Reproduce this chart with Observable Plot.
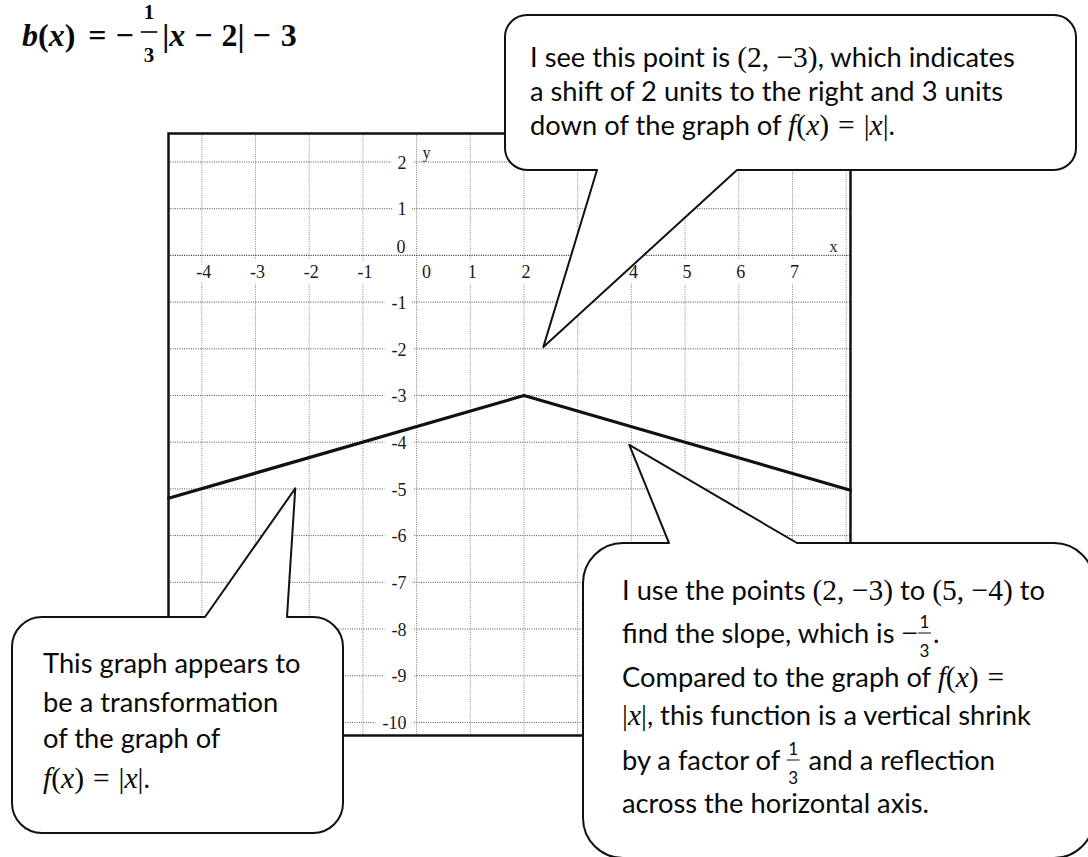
<!DOCTYPE html>
<html>
<head>
<meta charset="utf-8">
<script src="https://cdn.jsdelivr.net/npm/d3@7"></script>
<script src="https://cdn.jsdelivr.net/npm/@observablehq/plot@0.6"></script>
<style>
  html, body { margin: 0; padding: 0; background: #fff; }
  #wrap { position: relative; width: 1088px; height: 857px; overflow: hidden; }
</style>
</head>
<body>
<div id="wrap"></div>
<script>
// ---------- data ----------
const xDomain = [-4.62, 8.08];
const yDomain = [-10.28, 2.61];
const gridX = [-4, -3, -2, -1, 0, 1, 2, 3, 4, 5, 6, 7, 8];
const gridY = [-10, -9, -8, -7, -6, -5, -4, -3, -2, -1, 0, 1, 2];
const xTickLabels = [-4, -3, -2, -1, 1, 2, 3, 4, 5, 6, 7];
const yTickLabels = [-10, -9, -8, -7, -6, -5, -4, -3, -2, -1, 1, 2];
const zeroLabel = [0];
const curveX = [-4.62, 2, 8.08];
const curveY = [-5.2, -3, -5.03];
// callout pointer tips (data coordinates)
const tipX = [2.37, -2.25, 3.97];
const tipY = [-1.97, -5.0, -4.07];

const curve = curveX.map((x, i) => ({x, y: curveY[i]}));

const SERIF = "Liberation Serif, Times New Roman, serif";
const SANS = "Lato, Calibri, sans-serif";

const plot = Plot.plot({
  width: 1088,
  height: 857,
  marginLeft: 168,
  marginTop: 133,
  marginRight: 238,
  marginBottom: 122,
  x: {domain: xDomain, axis: null},
  y: {domain: yDomain, axis: null},
  style: {background: "white", overflow: "visible"},
  marks: [
    Plot.ruleX(gridX.filter(d => d !== 0), {x: d => d, stroke: "#888", strokeDasharray: "1,1.3", strokeWidth: 1}),
    Plot.ruleY(gridY.filter(d => d !== 0), {y: d => d, stroke: "#505050", strokeDasharray: "1,1.3", strokeWidth: 1}),
    Plot.text(xTickLabels, {x: d => d, y: 0, text: d => String(d), dx: 2, dy: 17, fontFamily: SERIF, fontSize: 18, fill: "#1a1a1a", stroke: "white", strokeWidth: 12}),
    Plot.text(zeroLabel, {x: d => d, y: 0, text: d => String(d), dx: 10, dy: 17, fontFamily: SERIF, fontSize: 18, fill: "#1a1a1a", stroke: "white", strokeWidth: 8}),
    Plot.text(yTickLabels, {x: 0, y: d => d, text: d => String(d), textAnchor: "end", dx: -10, dy: 1, fontFamily: SERIF, fontSize: 18, fill: "#1a1a1a", stroke: "white", strokeWidth: 16}),
    Plot.text(zeroLabel, {x: 0, y: d => d, text: d => String(d), textAnchor: "end", dx: -11, dy: -8, fontFamily: SERIF, fontSize: 18, fill: "#1a1a1a", stroke: "white", strokeWidth: 8}),
    Plot.ruleX(zeroLabel, {x: d => d, stroke: "#777", strokeDasharray: "1,1.3", strokeWidth: 1}),
    Plot.ruleY(zeroLabel, {y: d => d, stroke: "#333", strokeDasharray: "1,1.3", strokeWidth: 1.2}),
    Plot.text(["y"], {x: 0, y: yDomain[1], text: d => d, dx: 10, dy: 19, fontFamily: SERIF, fontSize: 16, fill: "#1a1a1a"}),
    Plot.text(["x"], {x: xDomain[1], y: 0, text: d => d, dx: -17, dy: -9, fontFamily: SERIF, fontSize: 16, fill: "#1a1a1a"}),
    Plot.line(curve, {x: "x", y: "y", stroke: "#111", strokeWidth: 3.2}),
    Plot.frame({stroke: "#111", strokeWidth: 2.5})
  ]
});

document.getElementById("wrap").appendChild(plot);

const sx = plot.scale("x"), sy = plot.scale("y");
const svg = d3.select(plot);

// ---------- callouts ----------
const bubbles = [
  {x0: 505, y0: 15, x1: 1076, y1: 170, r: 22, side: "bottom", b0: 597, b1: 737},
  {x0: 12, y0: 617, x1: 343, y1: 833, r: 30, side: "top", b0: 205, b1: 287},
  {x0: 583, y0: 543, x1: 1094, y1: 858, r: 40, side: "top", b0: 669, b1: 797}
];

function bubblePath(b, tx, ty) {
  const {x0, y0, x1, y1, r} = b;
  let p = `M${x0 + r},${y0}`;
  if (b.side === "top") p += `L${b.b0},${y0}L${tx},${ty}L${b.b1},${y0}`;
  p += `L${x1 - r},${y0}A${r},${r} 0 0 1 ${x1},${y0 + r}L${x1},${y1 - r}A${r},${r} 0 0 1 ${x1 - r},${y1}`;
  if (b.side === "bottom") p += `L${b.b1},${y1}L${tx},${ty}L${b.b0},${y1}`;
  p += `L${x0 + r},${y1}A${r},${r} 0 0 1 ${x0},${y1 - r}L${x0},${y0 + r}A${r},${r} 0 0 1 ${x0 + r},${y0}Z`;
  return p;
}

const gB = svg.append("g");
bubbles.forEach((b, i) => {
  gB.append("path")
    .attr("d", bubblePath(b, sx.apply(tipX[i]), sy.apply(tipY[i])))
    .attr("fill", "white")
    .attr("stroke", "#111")
    .attr("stroke-width", 2)
    .attr("stroke-linejoin", "round");
});

// ---------- text ----------
const F = {
  sans: {family: SANS, size: 27.3, style: "normal", weight: "normal"},
  m: {family: SERIF, size: 29.5, style: "normal", weight: "normal"},
  mi: {family: SERIF, size: 29.5, style: "italic", weight: "normal"},
  tb: {family: SERIF, size: 32, style: "normal", weight: "bold"},
  tbi: {family: SERIF, size: 32, style: "italic", weight: "bold"}
};

const gT = svg.append("g").attr("fill", "#0a0a0a").attr("text-anchor", "start");

function drawLine(x, y, segs) {
  let cx = x;
  for (const s of segs) {
    if (s.space) { cx += s.space; continue; }
    if (s.frac) {
      const f = F[s.f];
      const fs = s.size;
      const n = gT.append("text").attr("y", y + s.nd).attr("text-anchor", "middle")
        .style("font-family", f.family).style("font-size", fs + "px").style("font-weight", f.weight).text(s.frac[0]);
      const d = gT.append("text").attr("y", y + s.dd).attr("text-anchor", "middle")
        .style("font-family", f.family).style("font-size", fs + "px").style("font-weight", f.weight).text(s.frac[1]);
      const w = Math.max(n.node().getComputedTextLength(), d.node().getComputedTextLength()) + (s.pad || 2);
      n.attr("x", cx + w / 2);
      d.attr("x", cx + w / 2);
      gT.append("line").attr("x1", cx).attr("x2", cx + w).attr("y1", y + s.bd).attr("y2", y + s.bd)
        .attr("stroke", "#111").attr("stroke-width", s.bw || 1);
      cx += w + (s.gap || 1);
    } else {
      const f = F[s.f];
      const t = gT.append("text").attr("x", cx).attr("y", y).attr("text-anchor", "start")
        .style("font-family", f.family).style("font-size", (s.size || f.size) + "px")
        .style("font-style", f.style).style("font-weight", f.weight)
        .style("white-space", "pre").text(s.t);
      cx += t.node().getComputedTextLength();
    }
  }
}

// title: b(x) = −(1/3)|x − 2| − 3
drawLine(22, 46, [
  {t: "b", f: "tbi"}, {t: "(", f: "tb"}, {t: "x", f: "tbi"}, {t: ")", f: "tb"}, {space: 13},
  {t: "=", f: "tb"}, {space: 9}, {t: "−", f: "tb"}, {space: 7},
  {frac: ["1", "3"], f: "tb", size: 21, nd: -27, dd: 16, bd: -14, bw: 1.7, pad: 6, gap: 5},
  {t: "|", f: "tb"}, {t: "x", f: "tbi"}, {space: 9}, {t: "−", f: "tb"}, {space: 9}, {t: "2|", f: "tb"},
  {space: 8}, {t: "−", f: "tb"}, {space: 10}, {t: "3", f: "tb"}
]);

const fracSmall = {f: "sans", size: 17, nd: -15, dd: 14, bd: -10, pad: 3, gap: 2};
const fx = (tail) => [
  {t: "f", f: "mi"}, {t: "(", f: "m"}, {t: "x", f: "mi"}, {t: ")", f: "m"}, {space: 9}, {t: "=", f: "m"}
].concat(tail);

// bubble 1
drawLine(530, 67, [{t: "I see this point is ", f: "sans"}, {t: "(2, −3)", f: "m"}, {t: ", which indicates", f: "sans"}]);
drawLine(530, 101, [{t: "a shift of 2 units to the right and 3 units", f: "sans"}]);
drawLine(530, 135, [{t: "down of the graph of ", f: "sans"}].concat(fx([{space: 9}, {t: "|", f: "m"}, {t: "x", f: "mi"}, {t: "|", f: "m"}, {t: ".", f: "sans"}])));

// bubble 2
drawLine(43, 673, [{t: "This graph appears to", f: "sans"}]);
drawLine(43, 712, [{t: "be a transformation", f: "sans"}]);
drawLine(43, 748, [{t: "of the graph of", f: "sans"}]);
drawLine(43, 788, fx([{space: 9}, {t: "|", f: "m"}, {t: "x", f: "mi"}, {t: "|", f: "m"}, {t: ".", f: "sans"}]));

// bubble 3
drawLine(622, 600, [{t: "I use the points ", f: "sans"}, {t: "(2, −3)", f: "m"}, {t: " to ", f: "sans"}, {t: "(5, −4)", f: "m"}, {t: " to", f: "sans"}]);
drawLine(622, 643, [{t: "find the slope, which is ", f: "sans"}, {t: "−", f: "m"}, Object.assign({frac: ["1", "3"]}, fracSmall), {t: ".", f: "sans"}]);
drawLine(622, 687, [{t: "Compared to the graph of ", f: "sans"}].concat(fx([])));
drawLine(622, 725, [{t: "|", f: "m"}, {t: "x", f: "mi"}, {t: "|", f: "m"}, {t: ", this function is a vertical shrink", f: "sans"}]);
drawLine(622, 770, [{t: "by a factor of ", f: "sans"}, Object.assign({frac: ["1", "3"]}, fracSmall), {t: " and a reflection", f: "sans"}]);
drawLine(622, 813, [{t: "across the horizontal axis.", f: "sans"}]);
</script>
</body>
</html>
